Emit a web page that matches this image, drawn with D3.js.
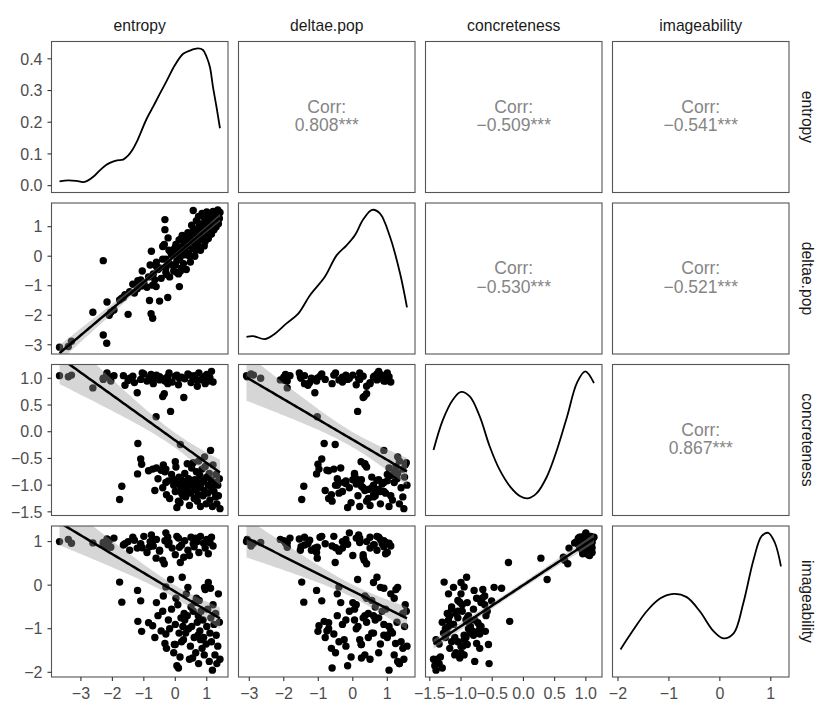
<!DOCTYPE html>
<html lang="en">
<head>
<meta charset="utf-8">
<title>ggpairs: entropy, deltae.pop, concreteness, imageability</title>
<script src="https://cdn.jsdelivr.net/npm/d3@7"></script>
<style>
  body { margin: 0; background: #fff; }
  text { font-family: "Liberation Sans", Arial, Helvetica, sans-serif; }
</style>
</head>
<body>
<script>

// variable names, in panel order
var vars = ["entropy", "deltae.pop", "concreteness", "imageability"];

// one value per word
var entropy = [
  -3.68, -3.40, -3.30, -2.62, -2.29, -2.18, -2.29, -2.17, -2.10, -2.05, -1.95, -1.60, -1.45, -1.35, -1.21, -1.10,
  -1.00, -0.90, -0.80, -0.70, -0.60, -0.50, -0.40, -0.35, -0.30, -0.20, -0.10, 0.00, 0.10, 0.20, 0.27, 0.30,
  0.40, 0.50, 0.57, 0.60, 0.70, 0.75, 0.80, 0.90, 0.95, 1.00, 1.05, 1.10, 1.15, 1.20, -1.50, -1.65,
  -1.30, -0.82, -0.77, -0.72, -0.50, -0.24, 0.13, -0.33, -0.23, -0.76, 0.45, 0.65, -1.05, 0.05,
  -0.15, -0.61, 0.16, -1.19, 1.12, -1.10, -1.07, 0.00, 0.93,
  -1.77, -1.70, -1.20, -0.85, -0.72, -0.60, -0.45, -0.40, -0.33, -0.30, -0.30, -0.55, -0.65, -0.38, -0.28, -0.22,
  -0.18, -0.12, -0.05, -0.03, 0.00, 0.02, 0.05, 0.08, 0.10, 0.12, 0.15, 0.18, 0.20, 0.22, 0.24, 0.26,
  0.28, 0.30, 0.33, 0.35, 0.38, 0.40, 0.42, 0.45, 0.48, 0.50, 0.52, 0.55, 0.57, 0.60, 0.62, 0.65,
  0.67, 0.70, 0.72, 0.73, 0.74, 0.76, 0.78, 0.80, 0.82, 0.85, 0.88, 0.90, 0.92, 0.95, 0.98, 1.00,
  1.03, 1.05, 1.08, 1.10, 1.13, 1.15, 1.18, 1.20, 1.23, 1.26, 1.28, 1.30, 1.32, 1.35, 1.37, 1.40, 1.42
];
var deltaePop = [
  -3.08, -3.06, -2.88, -1.90, -2.67, -2.95, -0.15, -1.55, -2.00, -1.90, -1.82, -1.30, -1.20, -0.95, -1.10, -0.80,
  -0.90, -1.05, -0.30, -0.60, -0.20, -0.40, 0.33, 0.40, -0.10, 0.20, -0.30, 0.30, 0.10, 0.60, 0.30, 0.20,
  0.70, 0.50, 0.85, 0.90, 0.40, 1.00, 0.70, 1.05, 0.50, 0.80, 0.95, 0.95, 0.75, 1.10, -1.97, -1.40,
  -1.25, -1.50, -1.95, -2.10, -1.52, -1.40, -1.03, 0.90, 0.62, 0.17, 0.00, 0.20, -0.50, -0.55,
  0.14, -1.03, -0.51, -0.83, 0.90, -0.90, -1.01, 0.24, 1.30,
  -1.48, -1.42, -1.05, -0.70, -0.98, -0.35, -0.75, -0.10, 1.24, -0.55, -0.40, -0.45, -0.80, 0.35, -0.62, -0.20,
  -0.70, 0.05, -0.50, 0.25, -0.30, 0.40, -0.15, 0.10, -0.60, 0.55, -0.05, 0.30, -0.40, 0.70, 0.15, -0.25,
  0.45, 0.05, 0.60, -0.45, 0.35, 0.80, 0.10, 0.50, -0.20, 0.65, 1.05, 0.25, 1.55, 0.45, 0.00, 0.75,
  1.20, 0.40, 0.90, 0.60, 1.35, 0.55, 1.10, 0.20, 0.85, 1.45, 0.65, 1.00, 0.35, 1.25, 0.80, 1.50,
  0.95, 0.60, 1.30, 1.15, 0.75, 1.40, 1.05, 1.52, 0.90, 1.20, 1.45, 1.00, 1.35, 1.57, 1.10, 1.28, 1.48
];
var concreteness = [
  1.05, 1.03, 1.06, 0.82, 1.00, 1.08, 0.98, 1.10, 1.02, 0.95, 1.05, 0.87, 1.00, 1.04, 0.73, 0.98,
  1.08, 0.95, 1.02, 0.90, 1.06, 0.97, 0.66, 0.71, 1.00, 1.10, 0.93, 1.04, 0.88, 1.02, 0.64, 0.99,
  1.08, 0.92, 1.00, 1.05, 0.85, 1.10, 0.97, 1.03, 0.90, 1.07, 0.95, 1.01, 1.13, 0.93, 0.96, 1.05,
  0.92, 1.00, 1.07, 0.97, 1.03, 0.90, 1.00, 0.95, 1.04, 0.99, 1.06, 0.98, 1.10, 1.06,
  0.38, 0.28, -0.24, -0.22, -0.35, -0.51, -0.61, -0.56, -0.47,
  -1.27, -1.02, -0.79, -0.73, -0.70, -0.68, -0.72, -1.05, -0.75, -0.70, -0.95, -0.88, -1.10, -0.62, -1.18, -0.92,
  -1.25, -0.80, -1.00, -0.90, -1.12, -0.66, -1.42, -0.98, -1.30, -0.85, -1.33, -1.05, -1.15, -0.91, -1.20, -0.95,
  -1.08, -0.78, -1.22, -1.00, -0.60, -1.12, -0.88, -1.38, -0.97, -1.15, -0.68, -1.02, -0.58, -1.25, -0.90, -1.08,
  -0.75, -1.30, -0.95, -1.18, -0.55, -1.05, -0.82, -1.40, -0.98, -0.70, -1.20, -0.92, -1.10, -0.65, -1.35, -0.85,
  -1.15, -1.00, -0.78, -1.28, -0.90, -1.05, -1.40, -0.62, -1.12, -0.95, -1.22, -0.80, -1.35, -1.00, -1.20, -0.88, -1.44
];
var imageability = [
  1.00, 1.05, 0.96, 0.97, 0.98, 0.90, 0.94, 1.06, 1.02, 0.87, 1.08, 0.95, 0.80, 1.10, 0.85, 0.95,
  1.12, 0.75, 1.00, 0.90, 1.05, 0.78, 0.57, 0.49, 1.20, 0.98, 0.85, 0.70, 1.08, 0.92, 0.64, 1.02,
  0.80, 1.10, 0.95, 0.88, 1.00, 0.75, 1.12, 0.96, 0.85, 1.05, 0.72, 0.98, 1.10, 0.90, 1.00, 0.92,
  1.03, 0.88, 0.96, 1.05, 0.80, 1.10, 0.87, 1.02, 0.93, 1.15, 0.68, 1.08, 0.86, 1.12,
  0.13, 0.62, 0.52, -0.83, -0.07, -0.36, -1.06, -1.36, -0.05,
  0.07, -0.39, -0.12, -0.86, -0.93, -0.40, -1.05, -0.60, -1.34, -1.12, -0.04, -0.70, -1.20, -0.25, -1.45, -0.80,
  -1.00, -0.55, -1.55, -1.36, -0.90, -0.30, -1.85, -0.45, -1.90, -1.10, -1.65, -0.75, -1.30, 0.18, -0.95, -1.25,
  -0.65, -0.80, -1.10, -0.20, -0.70, -0.05, -1.00, -1.70, -1.40, -0.50, -0.95, -1.67, -0.60, -1.20, -0.40, -1.55,
  -0.30, -0.85, -1.15, -0.70, -1.80, -0.35, -1.05, -1.25, -0.60, -1.45, -0.80, -1.20, -1.60, -0.10, -1.35, -0.95,
  -0.55, 0.06, -1.75, -1.10, -0.75, -1.30, -1.95, -0.45, -0.90, -1.60, -0.65, -1.15, -1.80, -1.40, -0.20, -0.85, -1.70
];

// density curves on the diagonal (x, density)
var densEntropyX = [-3.68, -3.40, -3.15, -2.92, -2.77, -2.56, -2.40, -2.20, -2.08, -1.85, -1.66, -1.50, -1.35, -1.23, -0.91, -0.70, -0.49, -0.25, -0.02, 0.25, 0.46, 0.72, 0.88, 1.00, 1.10, 1.20, 1.31, 1.42];
var densEntropyY = [0.0135, 0.0167, 0.015, 0.0113, 0.0167, 0.032, 0.048, 0.065, 0.072, 0.080, 0.082, 0.095, 0.115, 0.137, 0.211, 0.250, 0.290, 0.335, 0.379, 0.416, 0.426, 0.433, 0.428, 0.405, 0.374, 0.310, 0.248, 0.181];
var densDeltaeX = [-3.08, -2.89, -2.55, -2.31, -1.92, -1.58, -1.24, -0.81, -0.47, -0.18, 0.06, 0.30, 0.56, 0.79, 1.08, 1.37, 1.57];
var densDeltaeY = [0.031, 0.033, 0.024, 0.036, 0.071, 0.100, 0.155, 0.210, 0.274, 0.304, 0.334, 0.381, 0.410, 0.399, 0.329, 0.220, 0.119];
var densConcX = [-1.44, -1.29, -1.13, -1.00, -0.86, -0.70, -0.54, -0.38, -0.21, -0.05, 0.07, 0.21, 0.375, 0.536, 0.70, 0.857, 0.99, 1.13];
var densConcY = [0.285, 0.431, 0.529, 0.567, 0.545, 0.448, 0.302, 0.188, 0.106, 0.060, 0.050, 0.074, 0.155, 0.285, 0.448, 0.611, 0.667, 0.610];
var densImagX = [-1.95, -1.70, -1.44, -1.175, -0.91, -0.65, -0.39, -0.13, 0.07, 0.27, 0.46, 0.66, 0.82, 0.95, 1.08, 1.20];
var densImagY = [0.088, 0.170, 0.249, 0.304, 0.324, 0.310, 0.249, 0.167, 0.135, 0.156, 0.284, 0.468, 0.569, 0.583, 0.541, 0.441];

// correlation labels in the upper triangle
var corrRows = [0, 0, 0, 1, 1, 2];
var corrCols = [1, 2, 3, 2, 3, 3];
var corrLabels = ["0.808***", "\u22120.509***", "\u22120.541***", "\u22120.530***", "\u22120.521***", "0.867***"];

// tick values
var densTicks = [0, 0.1, 0.2, 0.3, 0.4];
var varTicks = [[-3, -2, -1, 0, 1], [-3, -2, -1, 0, 1], [-1.5, -1, -0.5, 0, 0.5, 1], [-2, -1, 0, 1]];
var varFormats = ["d", "d", ".1f", "d"];

var W = 830, H = 712;
var lefts = [51.5, 238.5, 425.5, 612.5], panelW = 176.5;
var tops = [41.5, 203, 364.5, 526], panelH = 151;

var values = [entropy, deltaePop, concreteness, imageability];
var densX = [densEntropyX, densDeltaeX, densConcX, densImagX];
var densY = [densEntropyY, densDeltaeY, densConcY, densImagY];

function expand(ext) {
  var r = ext[1] - ext[0];
  return [ext[0] - 0.05 * r, ext[1] + 0.05 * r];
}

var xScales = values.map(function (v, j) {
  return d3.scaleLinear().domain(expand(d3.extent(v))).range([lefts[j], lefts[j] + panelW]);
});
var yScales = values.map(function (v, i) {
  return d3.scaleLinear().domain(expand(d3.extent(v))).range([tops[i] + panelH, tops[i]]);
});
var densScales = densY.map(function (v, k) {
  var m = d3.max(v);
  return d3.scaleLinear().domain([-0.05 * m, 1.05 * m]).range([tops[k] + panelH, tops[k]]);
});

// straight-line fit with a 95% band, like geom_smooth(method = "lm")
function lmBand(xs, ys) {
  var n = xs.length, mx = d3.mean(xs), my = d3.mean(ys);
  var sxx = d3.sum(xs, function (x) { return (x - mx) * (x - mx); });
  var sxy = d3.sum(xs, function (x, k) { return (x - mx) * (ys[k] - my); });
  var b = sxy / sxx, a = my - b * mx;
  var s = Math.sqrt(d3.sum(xs, function (x, k) { return Math.pow(ys[k] - a - b * x, 2); }) / (n - 2));
  var t = 1.976;
  var ext = d3.extent(xs);
  return d3.range(81).map(function (k) {
    var x = ext[0] + (ext[1] - ext[0]) * k / 80;
    var se = s * Math.sqrt(1 / n + (x - mx) * (x - mx) / sxx);
    var y = a + b * x;
    return { x: x, y: y, lo: y - t * se, hi: y + t * se };
  });
}

var svg = d3.select("body").append("svg")
  .attr("width", W)
  .attr("height", H);

var defs = svg.append("defs");

for (var i = 0; i < 4; i++) {
  for (var j = 0; j < 4; j++) {
    var id = "clip" + i + j;
    defs.append("clipPath").attr("id", id)
      .append("rect")
      .attr("x", lefts[j]).attr("y", tops[i])
      .attr("width", panelW).attr("height", panelH);

    var g = svg.append("g").attr("clip-path", "url(#" + id + ")");
    var xs = xScales[j];

    if (i === j) {
      // density line
      var ys = densScales[i];
      var dx = densX[i], dy = densY[i];
      g.append("path")
        .attr("d", d3.line()
          .x(function (d, k) { return xs(dx[k]); })
          .y(function (d, k) { return ys(dy[k]); })
          .curve(d3.curveCatmullRom.alpha(0.5))(dx))
        .attr("fill", "none")
        .attr("stroke", "#000")
        .attr("stroke-width", 1.8);
    } else if (i > j) {
      // scatter + lm
      var yv = yScales[i];
      var px = values[j], py = values[i];
      g.selectAll("circle.pt").data(px).enter().append("circle")
        .attr("class", "pt")
        .attr("cx", function (d) { return xs(d); })
        .attr("cy", function (d, k) { return yv(py[k]); })
        .attr("r", 3.7)
        .attr("fill", "#000");

      var band = lmBand(px, py);
      g.append("path")
        .attr("d", d3.area()
          .x(function (d) { return xs(d.x); })
          .y0(function (d) { return yv(d.lo); })
          .y1(function (d) { return yv(d.hi); })(band))
        .attr("fill", "#999999")
        .attr("fill-opacity", 0.4);
      g.append("path")
        .attr("d", d3.line()
          .x(function (d) { return xs(d.x); })
          .y(function (d) { return yv(d.y); })(band))
        .attr("fill", "none")
        .attr("stroke", "#000")
        .attr("stroke-width", 2.5);
    }

    svg.append("rect")
      .attr("x", lefts[j]).attr("y", tops[i])
      .attr("width", panelW).attr("height", panelH)
      .attr("fill", "none")
      .attr("stroke", "#555555")
      .attr("stroke-width", 1.1);
  }
}

// correlation text
corrLabels.forEach(function (lab, k) {
  var cx = lefts[corrCols[k]] + panelW / 2;
  var cy = tops[corrRows[k]] + panelH / 2;
  svg.append("text")
    .attr("x", cx).attr("y", cy - 4.5)
    .attr("text-anchor", "middle")
    .attr("font-size", 17.5)
    .attr("fill", "#858585")
    .text("Corr:");
  svg.append("text")
    .attr("x", cx).attr("y", cy + 14)
    .attr("text-anchor", "middle")
    .attr("font-size", 17.5)
    .attr("fill", "#858585")
    .text(lab);
});

// strip labels
vars.forEach(function (v, k) {
  svg.append("text")
    .attr("x", lefts[k] + panelW / 2).attr("y", 30.5)
    .attr("text-anchor", "middle")
    .attr("font-size", 15.7)
    .attr("fill", "#1a1a1a")
    .text(v);
  svg.append("text")
    .attr("transform", "translate(801.5," + (tops[k] + panelH / 2) + ") rotate(90)")
    .attr("text-anchor", "middle")
    .attr("font-size", 15.7)
    .attr("fill", "#1a1a1a")
    .text(v);
});

// left axes
for (var r = 0; r < 4; r++) {
  var sc = r === 0 ? densScales[0] : yScales[r];
  var tv = r === 0 ? densTicks : varTicks[r];
  var fmt = d3.format(r === 0 ? ".1f" : varFormats[r]);
  tv.forEach(function (t) {
    var y = sc(t);
    svg.append("line")
      .attr("x1", lefts[0] - 4).attr("x2", lefts[0])
      .attr("y1", y).attr("y2", y)
      .attr("stroke", "#333333").attr("stroke-width", 1.1);
    svg.append("text")
      .attr("x", lefts[0] - 9).attr("y", y)
      .attr("dy", "0.36em")
      .attr("text-anchor", "end")
      .attr("font-size", 16)
      .attr("fill", "#4d4d4d")
      .text(fmt(t));
  });
}

// bottom axes
var bottom = tops[3] + panelH;
for (var c = 0; c < 4; c++) {
  var fx = d3.format(varFormats[c]);
  varTicks[c].forEach(function (t) {
    var x = xScales[c](t);
    svg.append("line")
      .attr("x1", x).attr("x2", x)
      .attr("y1", bottom).attr("y2", bottom + 4)
      .attr("stroke", "#333333").attr("stroke-width", 1.1);
    svg.append("text")
      .attr("x", x).attr("y", bottom + 21.5)
      .attr("text-anchor", "middle")
      .attr("font-size", 16)
      .attr("fill", "#4d4d4d")
      .text(fx(t));
  });
}

</script>
</body>
</html>
